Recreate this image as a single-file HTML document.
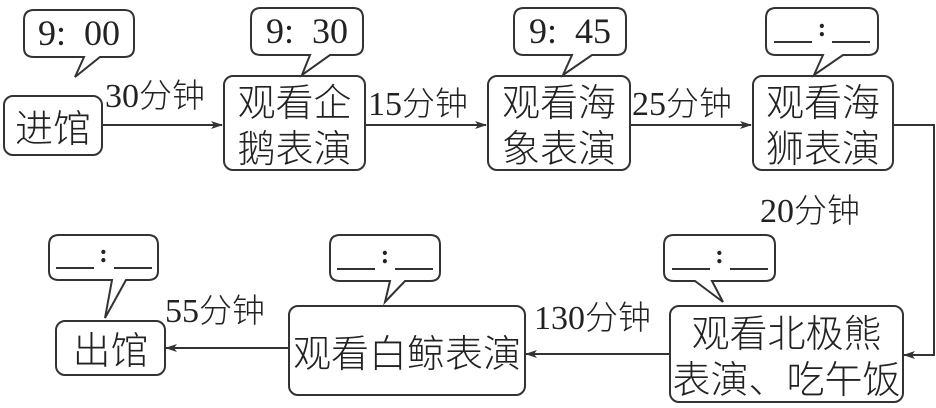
<!DOCTYPE html>
<html><head><meta charset="utf-8"><style>
body{margin:0;width:936px;height:408px;background:#fff;position:relative;overflow:hidden;font-family:"Liberation Serif","Noto Serif CJK SC","Noto Sans CJK SC",serif;color:#222}
.b{position:absolute;border:2px solid #333;border-radius:10px;box-sizing:border-box;font-size:38px;line-height:46px;text-align:center;display:flex;align-items:center;justify-content:center;font-family:"Noto Sans CJK SC",sans-serif;font-weight:300}
.l{position:absolute;font-size:34px;line-height:36px;white-space:nowrap}
.l b{font-weight:normal;font-family:"Noto Sans CJK SC",sans-serif;font-weight:300;font-size:33px}
svg{position:absolute;left:0;top:0}
.t{position:absolute;font-size:36px;line-height:36px;text-align:center;white-space:nowrap}
.k{display:flex;position:absolute;align-items:flex-end;justify-content:center;height:30px}
.k i{display:inline-block;width:38px;border-bottom:2px solid #333;height:26px}
.k s{text-decoration:none;font-size:26px;line-height:26px;font-weight:bold;width:20px;text-align:center;height:28px}
</style></head><body>
<svg width="936" height="408" fill="none" stroke="#333" stroke-width="2">
<defs><marker id="a" markerWidth="12" markerHeight="10" refX="11" refY="5" orient="auto" markerUnits="userSpaceOnUse"><path d="M0,1 L12,5 L0,9 L3,5 Z" fill="#333" stroke="none"/></marker></defs>
<line x1="102" y1="125" x2="222" y2="125" marker-end="url(#a)"/>
<line x1="365" y1="125" x2="486" y2="125" marker-end="url(#a)"/>
<line x1="630" y1="125" x2="751" y2="125" marker-end="url(#a)"/>
<polyline points="893,125 934,125 934,355 904,355" marker-end="url(#a)"/>
<line x1="669" y1="354" x2="526" y2="354" marker-end="url(#a)"/>
<line x1="288" y1="348" x2="166" y2="348" marker-end="url(#a)"/>
<g fill="#fff">
<path d="M34,10 H124 Q134,10 134,20 V48 Q134,57 124,57 H100 L75,77 L84,57 H34 Q24,57 24,48 V20 Q24,10 34,10 Z"/>
<path d="M261,8 H353 Q363,8 363,18 V46 Q363,55 353,55 H330 L302,75 L310,55 H261 Q251,55 251,46 V18 Q251,8 261,8 Z"/>
<path d="M524,8 H616 Q626,8 626,18 V46 Q626,55 616,55 H592 L563,75 L572,55 H524 Q514,55 514,46 V18 Q514,8 524,8 Z"/>
<path d="M776,8 H868 Q878,8 878,18 V46 Q878,55 868,55 H843 L814,75 L823,55 H776 Q766,55 766,46 V18 Q766,8 776,8 Z"/>
<path d="M674,235 H765 Q775,235 775,245 V272 Q775,281 765,281 H712 L723,302 L695,281 H674 Q664,281 664,272 V245 Q664,235 674,235 Z"/>
<path d="M340,235 H430 Q440,235 440,245 V272 Q440,281 430,281 H405 L385,302 L390,281 H340 Q330,281 330,272 V245 Q330,235 340,235 Z"/>
<path d="M59,235 H148 Q158,235 158,245 V271 Q158,280 148,280 H126 L105,318 L112,280 H59 Q49,280 49,271 V245 Q49,235 59,235 Z"/>
</g></svg>
<div class="t" style="left:24px;top:15px;width:110px">9:&nbsp;&nbsp;00</div>
<div class="t" style="left:251px;top:13px;width:112px">9:&nbsp;&nbsp;30</div>
<div class="t" style="left:514px;top:13px;width:112px">9:&nbsp;&nbsp;45</div>
<div class="k" style="left:766px;top:13px;width:112px"><i></i><s>:</s><i></i></div>
<div class="k" style="left:664px;top:240px;width:111px"><i></i><s>:</s><i></i></div>
<div class="k" style="left:330px;top:240px;width:110px"><i></i><s>:</s><i></i></div>
<div class="k" style="left:49px;top:239px;width:109px"><i></i><s>:</s><i></i></div>
<div class="b" style="left:3px;top:95px;width:100px;height:61px">进馆</div>
<div class="b" style="left:223px;top:75px;width:143px;height:96px">观看企<br>鹅表演</div>
<div class="b" style="left:487px;top:75px;width:144px;height:96px">观看海<br>象表演</div>
<div class="b" style="left:752px;top:75px;width:142px;height:96px">观看海<br>狮表演</div>
<div class="b" style="left:669px;top:305px;width:235px;height:98px">观看北极熊<br>表演、吃午饭</div>
<div class="b" style="left:288px;top:305px;width:238px;height:91px">观看白鲸表演</div>
<div class="b" style="left:55px;top:320px;width:111px;height:56px">出馆</div>
<div class="l" style="left:105px;top:75px">30<b>分钟</b></div>
<div class="l" style="left:368px;top:83px">15<b>分钟</b></div>
<div class="l" style="left:632px;top:83px">25<b>分钟</b></div>
<div class="l" style="left:760px;top:190px">20<b>分钟</b></div>
<div class="l" style="left:534px;top:297px">130<b>分钟</b></div>
<div class="l" style="left:165px;top:290px">55<b>分钟</b></div>
</body></html>
